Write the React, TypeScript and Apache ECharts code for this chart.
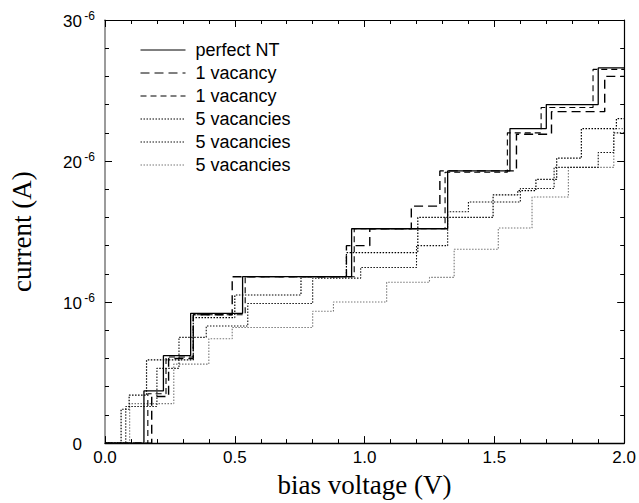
import React, { useEffect, useRef } from "react";
import * as echarts from "echarts";

// ---- data (bias voltage in V, current in units of 1e-6 A) ----
const xTickLabels = ["0.0", "0.5", "1.0", "1.5", "2.0"];
const yTickBases = ["0", "10", "20", "30"];
const yTickExponents = ["", "-6", "-6", "-6"];

const seriesNames = [
  "perfect NT#1",
  "1 vacancy#1",
  "1 vacancy#2",
  "5 vacancies#1",
  "5 vacancies#2",
  "5 vacancies#3",
];

const perfectV = [0, 0.15, 0.225, 0.33, 0.53, 0.95, 1.32, 1.56, 1.7, 1.9, 2.0];
const perfectI = [0, 3.7, 6.2, 9.2, 11.8, 15.2, 19.3, 22.3, 24.0, 26.6, 26.6];

const vac1aV = [0, 0.18, 0.245, 0.34, 0.49, 0.93, 1.02, 1.18, 1.29, 1.585, 1.72, 1.925, 2.0];
const vac1aI = [0, 3.3, 6.0, 9.1, 11.8, 14.0, 15.2, 16.8, 19.3, 21.9, 23.5, 26.0, 26.0];

const vac1bV = [0, 0.165, 0.235, 0.34, 0.54, 0.96, 1.31, 1.55, 1.68, 1.88, 2.0];
const vac1bI = [0, 3.5, 6.1, 9.1, 11.8, 15.2, 19.2, 22.0, 23.8, 26.5, 26.5];

const vac5aV = [0, 0.062, 0.093, 0.16, 0.34, 0.5, 0.755, 0.93, 1.205, 1.495, 1.59, 1.66, 1.74, 1.835, 1.97, 2.0];
const vac5aI = [0, 2.4, 3.4, 5.9, 8.9, 10.5, 11.8, 13.5, 16.0, 17.6, 17.9, 18.7, 20.2, 22.3, 23.0, 23.0];

const vac5bV = [0, 0.08, 0.2, 0.285, 0.39, 0.55, 0.8, 0.985, 1.2, 1.32, 1.4, 1.6, 1.73, 1.9, 1.96, 2.0];
const vac5bI = [0, 2.6, 5.3, 7.5, 8.3, 9.9, 11.7, 12.45, 14.0, 16.4, 17.1, 18.05, 19.55, 20.6, 22.0, 22.0];

const vac5cV = [0, 0.095, 0.265, 0.4, 0.49, 0.8, 0.88, 1.085, 1.25, 1.345, 1.515, 1.645, 1.785, 1.96, 2.0];
const vac5cI = [0, 2.8, 5.6, 7.4, 8.2, 9.35, 10.0, 11.4, 11.75, 13.75, 15.25, 17.45, 19.55, 22.3, 22.3];

const curvesV = [perfectV, vac1aV, vac1bV, vac5aV, vac5bV, vac5cV];
const curvesI = [perfectI, vac1aI, vac1bI, vac5aI, vac5bI, vac5cI];

// ---- styles ----
const lineStyles: any[] = [
  { color: "#000", width: 1.3, type: "solid" },
  { color: "#000", width: 1.4, type: [9, 5] },
  { color: "#000", width: 1.1, type: [6, 4] },
  { color: "#000", width: 1.2, type: [1.5, 1.5] },
  { color: "#111", width: 1.1, type: [1.5, 1.5] },
  { color: "#777", width: 1.1, type: [1.5, 1.5] },
];
const zOrder = [6, 5, 4, 3, 2, 1];

const sans = "'Liberation Sans', Arial, Helvetica, sans-serif";
const serif = "'Liberation Serif', 'Times New Roman', Times, serif";

export default function App() {
  const ref = useRef<HTMLDivElement>(null);
  useEffect(() => {
    if (!ref.current) return;
    const chart = echarts.init(ref.current, undefined, { renderer: "svg" });

    const series = curvesV.map((vs, k) => ({
      name: seriesNames[k],
      type: "line",
      step: "end",
      symbol: "none",
      showSymbol: false,
      z: zOrder[k],
      xAxisIndex: 0,
      yAxisIndex: 0,
      data: vs.map((v, i) => [v, curvesI[k][i]]),
      lineStyle: lineStyles[k],
      itemStyle: { color: lineStyles[k].color },
    }));

    const tickCommon = { show: true, inside: true, length: 7, lineStyle: { color: "#000", width: 1 } };
    const minorCommon = { show: true, splitNumber: 5, length: 4, lineStyle: { color: "#000", width: 1 } };

    chart.setOption({
      animation: false,
      backgroundColor: "#fff",
      grid: { left: 103, right: 14, top: 20, bottom: 52, containLabel: false },
      legend: {
        orient: "vertical",
        left: 140,
        top: 41,
        padding: 0,
        itemWidth: 45,
        itemHeight: 12,
        itemGap: 5,
        data: seriesNames,
        selectedMode: false,
        formatter: (name: string) => name.replace(/#\d$/, ""),
        itemStyle: { color: "rgba(0,0,0,0)", borderWidth: 0, opacity: 0 },
        lineStyle: { width: 1 },
        textStyle: { fontFamily: sans, fontSize: 18, color: "#000", lineHeight: 18, padding: [0, 0, 0, 5] },
      },
      xAxis: [
        {
          type: "value",
          min: 0,
          max: 2,
          interval: 0.5,
          position: "bottom",
          axisLine: { show: true, onZero: false, lineStyle: { color: "#000", width: 1.3 } },
          axisTick: tickCommon,
          minorTick: minorCommon,
          splitLine: { show: false },
          axisLabel: {
            margin: 6,
            fontFamily: sans,
            fontSize: 17,
            color: "#000",
            formatter: (v: number) => xTickLabels[Math.round(v / 0.5)] ?? "",
          },
          name: "bias voltage (V)",
          nameLocation: "middle",
          nameGap: 24,
          nameTextStyle: { fontFamily: serif, fontSize: 27, color: "#000" },
        },
        {
          type: "value",
          min: 0,
          max: 2,
          interval: 0.5,
          position: "top",
          axisLine: { show: true, onZero: false, lineStyle: { color: "#000", width: 1.2 } },
          axisTick: tickCommon,
          minorTick: minorCommon,
          splitLine: { show: false },
          axisLabel: { show: false },
        },
      ],
      yAxis: [
        {
          type: "value",
          min: 0,
          max: 30,
          interval: 10,
          position: "left",
          axisLine: { show: true, onZero: false, lineStyle: { color: "#7a7a7a", width: 1.5 } },
          axisTick: tickCommon,
          minorTick: minorCommon,
          splitLine: { show: false },
          axisLabel: {
            margin: 8,
            formatter: (v: number) => {
              const i = Math.round(v / 10);
              return `{b|${yTickBases[i]}}{s|${yTickExponents[i]}}`;
            },
            rich: {
              b: { fontFamily: sans, fontSize: 17, color: "#000", lineHeight: 20, verticalAlign: "bottom" },
              s: { fontFamily: sans, fontSize: 12, color: "#000", width: 15, align: "left", verticalAlign: "top", lineHeight: 14 },
            },
          },
          name: "current (A)",
          nameLocation: "middle",
          nameGap: 70,
          nameRotate: 90,
          nameTextStyle: { fontFamily: serif, fontSize: 27, color: "#000" },
        },
        {
          type: "value",
          min: 0,
          max: 30,
          interval: 10,
          position: "right",
          axisLine: { show: true, onZero: false, lineStyle: { color: "#000", width: 1.2 } },
          axisTick: tickCommon,
          minorTick: minorCommon,
          splitLine: { show: false },
          axisLabel: { show: false },
        },
      ],
      series,
    });

    return () => chart.dispose();
  }, []);

  return (
    <div
      ref={ref}
      style={{ position: "absolute", left: 0, top: 0, width: 639, height: 503, background: "#fff" }}
    />
  );
}
